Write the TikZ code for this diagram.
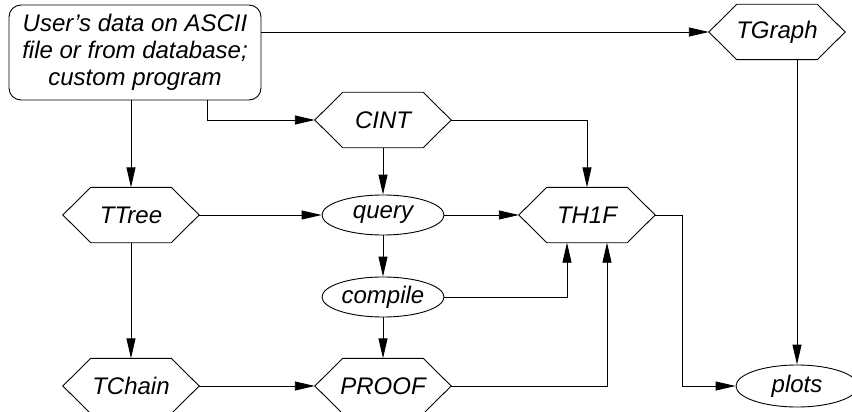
\documentclass[tikz,border=0pt]{standalone}
\usepackage{fontspec}
\setmainfont{Liberation Sans}
\usetikzlibrary{shapes.geometric,arrows.meta}
\tikzset{
  lbl/.style={font=\fontsize{24}{27}\selectfont\itshape},
  hexa/.style={lbl, rectangle, minimum width=136pt, minimum height=55pt, inner sep=0pt},
  hexline/.style={line width=0.9pt, line join=miter},
  oval/.style={lbl, ellipse, draw, line width=0.9pt, minimum width=122pt,
    minimum height=40pt, inner sep=0pt},
  userbox/.style={lbl, draw, line width=0.9pt, rounded corners=12pt, align=center,
    minimum width=252pt, minimum height=95pt, inner sep=0pt},
  conn/.style={line width=0.9pt, -{Triangle[length=20pt,width=9pt]}},
}
\newcommand\hexframe[1]{\draw[hexline] (#1.west) -- ([xshift=28pt]#1.north west) -- ([xshift=-28pt]#1.north east) -- (#1.east) -- ([xshift=-28pt]#1.south east) -- ([xshift=28pt]#1.south west) -- cycle;}
\begin{document}
\begin{tikzpicture}[x=1pt,y=-1pt]
\useasboundingbox (0,0) rectangle (852,412);
\clip (0,0) rectangle (852,412);
\node[userbox] (user) at (135,52.5) {User’s data on ASCII\\file or from database;\\custom program};
\node[hexa] (tgraph) at (777,32) {TGraph};
\node[hexa] (cint) at (383,120) {CINT};
\node[hexa] (ttree) at (131,215) {TTree};
\node[oval] (query) at (383,215) {query};
\node[hexa] (th1f) at (587,215) {TH1F};
\node[oval] (compile) at (383,297) {compile};
\node[hexa] (tchain) at (131,386) {TChain};
\node[hexa] (proof) at (383,386) {PROOF};
\node[oval, minimum height=42pt] (plots) at (797,386) {plots};
\foreach \n in {tgraph,cint,ttree,th1f,tchain,proof} {\hexframe{\n}}
\coordinate (ucint) at ([xshift=72pt]user.south);
\coordinate (th1r) at ([xshift=27pt]th1f.east);

\draw[conn] (tgraph.west -| user.east) -- (tgraph.west);
\draw[conn] (user.south -| ttree.north) -- (ttree.north);
\draw[conn] (ucint) |- (cint.west);
\draw[conn] (cint.south) -- (query.north);
\draw[conn] (cint.east) -| (th1f.north);
\draw[conn] (ttree.east) -- (query.west);
\draw[conn] (query.east) -- (th1f.west);
\draw[conn] (query.south) -- (compile.north);
\draw[conn] (compile.south) -- (proof.north);
\draw[conn] (compile.east) -| ([xshift=-20pt]th1f.south);
\draw[conn] (proof.east) -| ([xshift=20pt]th1f.south);
\draw[conn] (ttree.south) -- (tchain.north);
\draw[conn] (tchain.east) -- (proof.west);
\draw[conn] (tgraph.south -| plots.north) -- (plots.north);
\draw[conn] (th1f.east) -- (th1r) |- (plots.west);
\end{tikzpicture}
\end{document}
